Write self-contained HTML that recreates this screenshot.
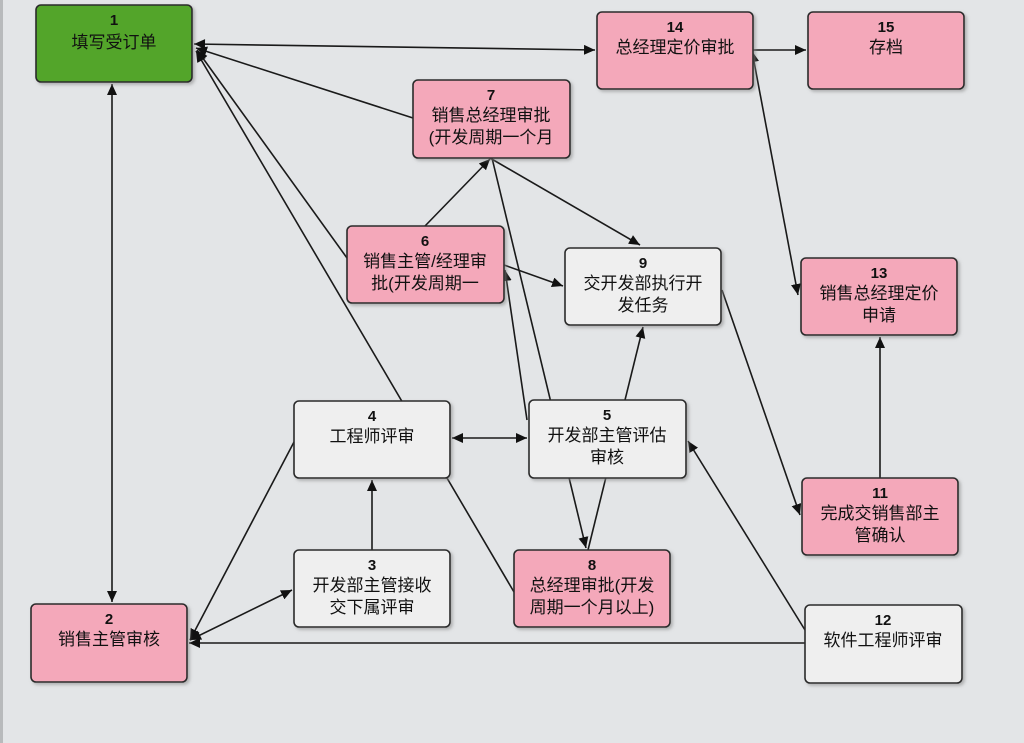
<!DOCTYPE html>
<html><head><meta charset="utf-8"><style>
html,body{margin:0;padding:0;background:#e3e5e7;}
svg{display:block}
text{font-family:"Liberation Sans","Noto Sans CJK SC",sans-serif;fill:#111;text-anchor:middle}
.n{font-weight:bold;font-size:15px}
.t{font-size:17px}
.l{stroke:#1a1a1a;stroke-width:1.6;fill:none;marker-end:url(#a)}
.b{stroke:#1a1a1a;stroke-width:1.6;fill:none;marker-end:url(#a);marker-start:url(#s)}
</style></head><body>
<svg width="1024" height="743" viewBox="0 0 1024 743">
<defs>
<marker id="a" markerWidth="12" markerHeight="12" refX="11" refY="5" orient="auto" markerUnits="userSpaceOnUse"><path d="M0,0 L11,5 L0,10 z" fill="#111"/></marker>
<marker id="s" markerWidth="12" markerHeight="12" refX="0" refY="5" orient="auto" markerUnits="userSpaceOnUse"><path d="M11,0 L0,5 L11,10 z" fill="#111"/></marker>
<filter id="sh"><feDropShadow dx="2" dy="2" stdDeviation="1.5" flood-color="#888" flood-opacity="0.6"/></filter>
</defs>
<rect x="0" y="0" width="3" height="743" fill="#b8babc"/>
<line class="b" x1="194" y1="44" x2="595" y2="50"/>
<line class="l" x1="413" y1="118" x2="196" y2="48"/>
<line class="l" x1="347" y1="258" x2="197" y2="50"/>
<line class="l" x1="514" y1="592" x2="196" y2="51"/>
<line class="b" x1="112" y1="84" x2="112" y2="602"/>
<line class="l" x1="753" y1="50" x2="806" y2="50"/>
<line class="b" x1="752" y1="51" x2="798" y2="295"/>
<line class="l" x1="425" y1="226" x2="490" y2="159"/>
<line class="l" x1="490" y1="158" x2="640" y2="245"/>
<line class="l" x1="492" y1="158" x2="586" y2="548"/>
<line class="l" x1="504" y1="265" x2="563" y2="286"/>
<line class="l" x1="527" y1="420" x2="505" y2="270"/>
<line class="l" x1="588" y1="550" x2="643" y2="327"/>
<line class="b" x1="452" y1="438" x2="527" y2="438"/>
<line class="l" x1="372" y1="550" x2="372" y2="480"/>
<line class="l" x1="294" y1="442" x2="190" y2="640"/>
<line class="b" x1="190" y1="640" x2="292" y2="590"/>
<line class="l" x1="805" y1="643" x2="189" y2="643"/>
<line class="l" x1="805" y1="630" x2="688" y2="441"/>
<line class="l" x1="722" y1="290" x2="800" y2="515"/>
<line class="l" x1="880" y1="478" x2="880" y2="337"/>
<g stroke="#2a2a2a" stroke-width="1.6" filter="url(#sh)">
<rect x="36" y="5" width="156" height="77" rx="5" fill="#53a52a"/>
<rect x="597" y="12" width="156" height="77" rx="5" fill="#f4a8ba"/>
<rect x="808" y="12" width="156" height="77" rx="5" fill="#f4a8ba"/>
<rect x="413" y="80" width="157" height="78" rx="5" fill="#f4a8ba"/>
<rect x="347" y="226" width="157" height="77" rx="5" fill="#f4a8ba"/>
<rect x="565" y="248" width="156" height="77" rx="5" fill="#efefef"/>
<rect x="801" y="258" width="156" height="77" rx="5" fill="#f4a8ba"/>
<rect x="294" y="401" width="156" height="77" rx="5" fill="#efefef"/>
<rect x="529" y="400" width="157" height="78" rx="5" fill="#efefef"/>
<rect x="802" y="478" width="156" height="77" rx="5" fill="#f4a8ba"/>
<rect x="294" y="550" width="156" height="77" rx="5" fill="#efefef"/>
<rect x="514" y="550" width="156" height="77" rx="5" fill="#f4a8ba"/>
<rect x="31" y="604" width="156" height="78" rx="5" fill="#f4a8ba"/>
<rect x="805" y="605" width="157" height="78" rx="5" fill="#efefef"/>
</g>
<text class="n" x="114" y="25">1</text><text class="t" x="114" y="48">填写受订单</text>
<text class="n" x="675" y="32">14</text><text class="t" x="675" y="53">总经理定价审批</text>
<text class="n" x="886" y="32">15</text><text class="t" x="886" y="53">存档</text>
<text class="n" x="491" y="100">7</text><text class="t" x="491" y="121">销售总经理审批</text><text class="t" x="491" y="143">(开发周期一个月</text>
<text class="n" x="425" y="246">6</text><text class="t" x="425" y="267">销售主管/经理审</text><text class="t" x="425" y="289">批(开发周期一</text>
<text class="n" x="643" y="268">9</text><text class="t" x="643" y="289">交开发部执行开</text><text class="t" x="643" y="311">发任务</text>
<text class="n" x="879" y="278">13</text><text class="t" x="879" y="299">销售总经理定价</text><text class="t" x="879" y="321">申请</text>
<text class="n" x="372" y="421">4</text><text class="t" x="372" y="442">工程师评审</text>
<text class="n" x="607" y="420">5</text><text class="t" x="607" y="441">开发部主管评估</text><text class="t" x="607" y="463">审核</text>
<text class="n" x="880" y="498">11</text><text class="t" x="880" y="519">完成交销售部主</text><text class="t" x="880" y="541">管确认</text>
<text class="n" x="372" y="570">3</text><text class="t" x="372" y="591">开发部主管接收</text><text class="t" x="372" y="613">交下属评审</text>
<text class="n" x="592" y="570">8</text><text class="t" x="592" y="591">总经理审批(开发</text><text class="t" x="592" y="613">周期一个月以上)</text>
<text class="n" x="109" y="624">2</text><text class="t" x="109" y="645">销售主管审核</text>
<text class="n" x="883" y="625">12</text><text class="t" x="883" y="646">软件工程师评审</text>
</svg>
</body></html>
